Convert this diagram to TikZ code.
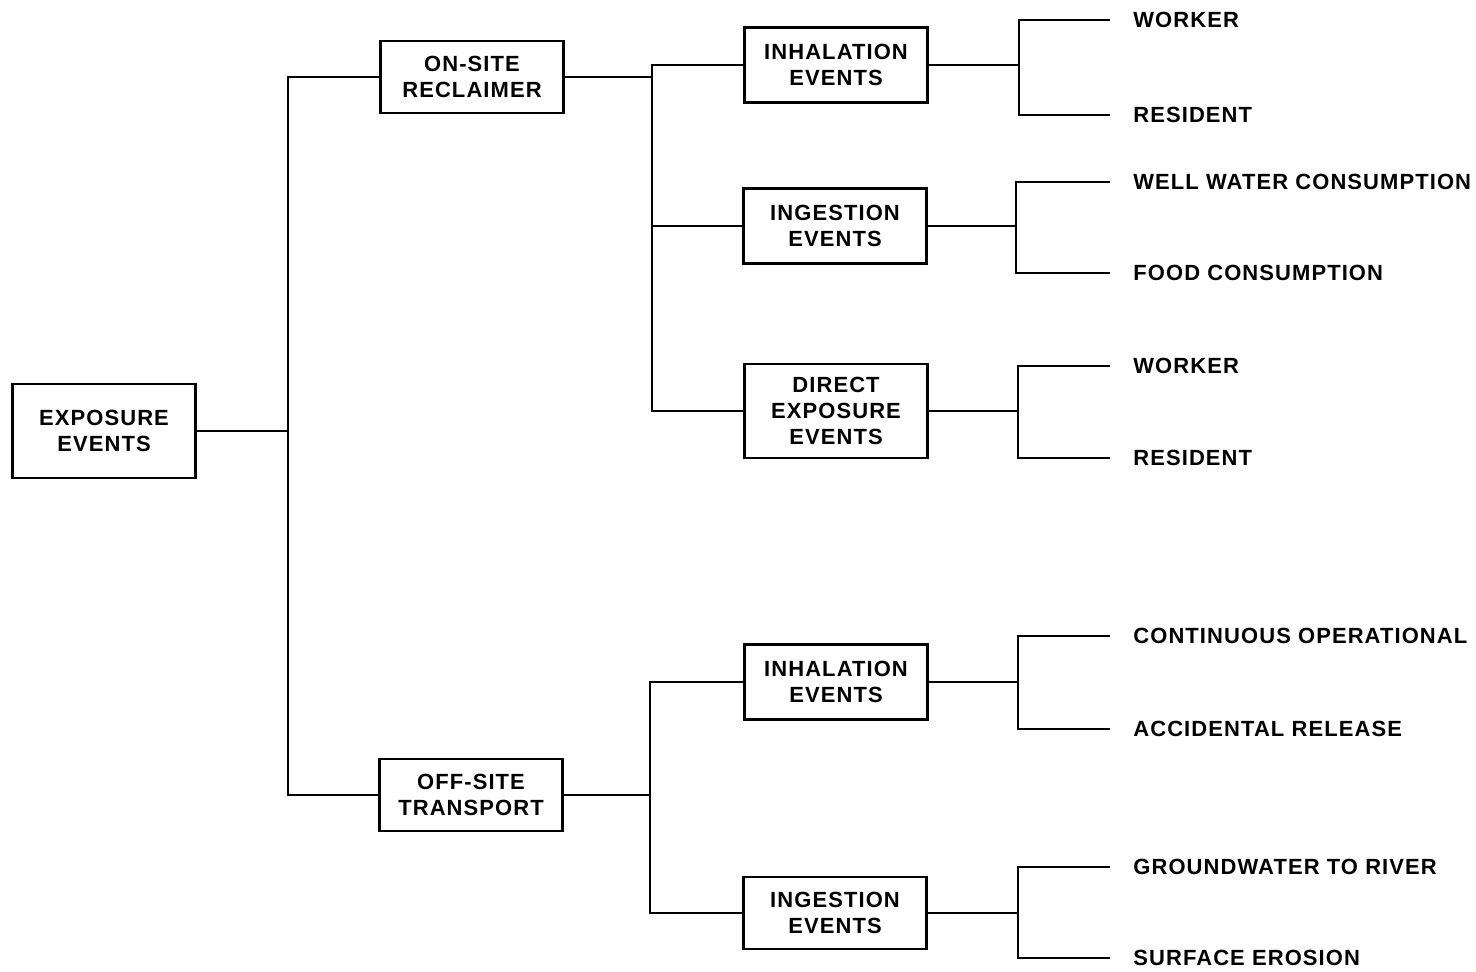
\documentclass[tikz,border=0pt]{standalone}
\usepackage{fontspec}
\setmainfont{Liberation Sans}[LetterSpace=5]
\usepackage{tikz}

\tikzset{
  box/.style={draw,line width=1.4pt,align=center,inner sep=0pt,
    minimum width=36.6mm,minimum height=15mm},
  tallbox/.style={box,minimum height=18.8mm},
  leaf/.style={anchor=west,inner xsep=4.6mm,inner ysep=0pt},
  lnk/.style={line width=1.1pt},
}

\begin{document}
\begin{tikzpicture}[x=0.2mm,y=-0.2mm,
    every node/.style={font=\fontsize{12.5}{14.8}\selectfont\bfseries}]
  \useasboundingbox (0,0) rectangle (1476,971);
  % Rutor
  \node[tallbox] (exp) at (104,431) {EXPOSURE\\EVENTS};
  \node[box,minimum height=14.4mm] (on) at (472,77) {ON-SITE\\RECLAIMER};
  \node[box,minimum height=14.4mm] (off) at (471,795) {OFF-SITE\\TRANSPORT};
  \node[box] (inh1) at (836,65) {INHALATION\\EVENTS};
  \node[box] (ing1) at (835,226) {INGESTION\\EVENTS};
  \node[tallbox] (dir) at (836,411) {DIRECT\\EXPOSURE\\EVENTS};
  \node[box] (inh2) at (836,682) {INHALATION\\EVENTS};
  \node[box,minimum height=14.4mm] (ing2) at (835,913) {INGESTION\\EVENTS};
  % Blad
  \node[leaf] (w1) at (1110,20) {WORKER};
  \node[leaf] (r1) at (1110,115) {RESIDENT};
  \node[leaf] (well) at (1110,182) {WELL WATER CONSUMPTION};
  \node[leaf] (food) at (1110,273) {FOOD CONSUMPTION};
  \node[leaf] (w2) at (1110,366) {WORKER};
  \node[leaf] (r2) at (1110,458) {RESIDENT};
  \node[leaf] (cont) at (1110,636) {CONTINUOUS OPERATIONAL};
  \node[leaf] (acc) at (1110,729) {ACCIDENTAL RELEASE};
  \node[leaf] (gw) at (1110,867) {GROUNDWATER TO RIVER};
  \node[leaf] (ero) at (1110,958) {SURFACE EROSION};
  % Grenpunkter
  \coordinate (b0) at (288,431);
  \coordinate (b1) at (652,77);
  \coordinate (b2) at (650,795);
  % Linjer
  \draw[lnk] (exp.east) -- (b0);
  \draw[lnk] (on.west) -| (b0) |- (off.west);
  \draw[lnk] (on.east) -- (b1);
  \draw[lnk] (inh1.west) -| (b1) |- (dir.west);
  \draw[lnk] (ing1.west) -- (ing1.west -| b1);
  \draw[lnk] (off.east) -- (b2);
  \draw[lnk] (inh2.west) -| (b2) |- (ing2.west);
  \foreach \ev/\xb/\up/\dn in {inh1/1019/w1/r1, ing1/1016/well/food,
      dir/1018/w2/r2, inh2/1018/cont/acc, ing2/1018/gw/ero} {
    \coordinate (k\ev) at (\xb,0);
    \draw[lnk] (\ev.east) -- (\ev.east -| k\ev);
    \draw[lnk] (\up.west) -| (k\ev |- \ev.east) |- (\dn.west);
  }
\end{tikzpicture}
\end{document}
